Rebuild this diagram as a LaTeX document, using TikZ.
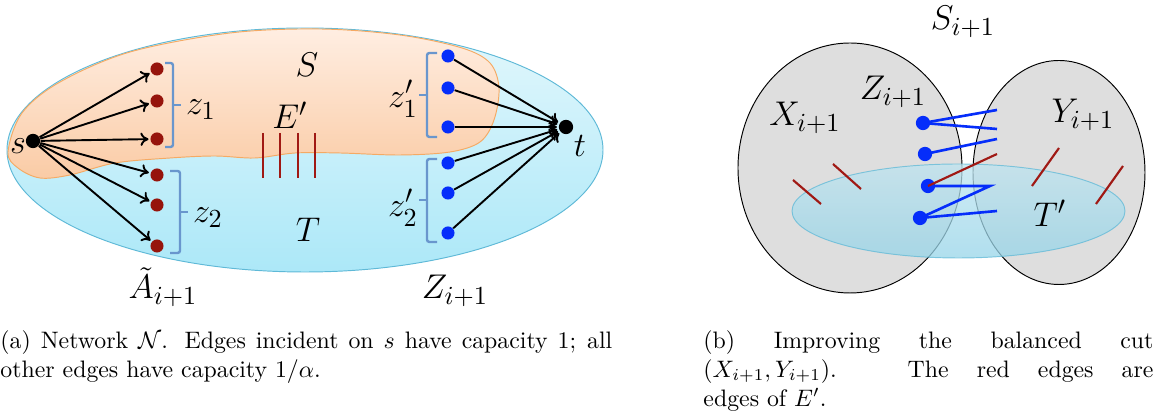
\documentclass[tikz,border=0pt]{standalone}
\usepackage{amsmath}
\usepackage{amssymb}
\usepackage{tikz}
\usetikzlibrary{arrows.meta}
\definecolor{dotRed}{RGB}{150,20,12}
\definecolor{dotBlue}{RGB}{5,45,250}
\definecolor{edgeRed}{RGB}{160,25,20}
\definecolor{braceBlue}{RGB}{105,150,205}
\definecolor{peachTop}{RGB}{255,238,226}
\definecolor{peachBot}{RGB}{250,203,165}
\definecolor{peachLine}{RGB}{245,170,100}
\definecolor{skyTop}{RGB}{226,247,252}
\definecolor{skyBot}{RGB}{172,232,248}
\definecolor{skyLine}{RGB}{95,185,215}
\definecolor{cellGray}{RGB}{222,222,222}
\definecolor{tTop}{RGB}{190,228,240}
\definecolor{tBot}{RGB}{150,212,232}

\tikzset{
  reddot/.style={circle, fill=dotRed, inner sep=0pt, minimum size=5.5pt},
  bluedot/.style={circle, fill=dotBlue, inner sep=0pt, minimum size=5.5pt},
  blackdot/.style={circle, fill=black, inner sep=0pt, minimum size=6pt},
  bigdot/.style={circle, fill=dotBlue, inner sep=0pt, minimum size=6pt},
  arr/.style={-{To[length=3.4pt, width=5.6pt]}, line width=0.8pt, shorten >=0.6pt},
  brk/.style={braceBlue, line width=1pt, rounded corners=1pt},
  cut/.style={edgeRed, line width=0.9pt},
  bedge/.style={dotBlue, line width=1.1pt},
  lbl/.style={inner sep=0pt, font=\fontsize{15.5}{18}\selectfont},
  capt/.style={inner sep=0pt, align=justify, font=\fontsize{10}{12.2}\selectfont}
}

\begin{document}
\begin{tikzpicture}[x=0.42pt, y=-0.42pt]
\useasboundingbox (0,0) rectangle (1155,417);

% (a) the network
\shadedraw[top color=skyTop, bottom color=skyBot, draw=skyLine, line width=0.4pt]
  (305,150) ellipse [x radius=298, y radius=122];
\shadedraw[top color=peachTop, bottom color=peachBot, draw=peachLine, line width=0.4pt]
  plot[smooth cycle, tension=0.55] coordinates {(8,152) (22,113) (60,82) (130,52)
  (230,33) (320,29) (400,35) (462,48) (490,63) (499,88) (494,120) (480,142)
  (450,152) (400,155) (340,153) (295,153) (255,158) (215,156) (170,158)
  (115,163) (70,175) (40,178) (18,168)};

\draw[cut] (263,133) -- (263,178);
\draw[cut] (280,133) -- (280,178);
\draw[cut] (298,133) -- (298,178);
\draw[cut] (315,133) -- (315,178);

\node[blackdot] (s) at (33,141) {};
\node[blackdot] (t) at (566,127) {};
\node[reddot] (a1) at (157,69) {};
\node[reddot] (a2) at (157,101) {};
\node[reddot] (a3) at (157,139) {};
\node[reddot] (a4) at (157,175) {};
\node[reddot] (a5) at (157,205) {};
\node[reddot] (a6) at (157,246) {};
\node[bluedot] (b1) at (448,56) {};
\node[bluedot] (b2) at (448,88) {};
\node[bluedot] (b3) at (448,127) {};
\node[bluedot] (b4) at (448,163) {};
\node[bluedot] (b5) at (448,193) {};
\node[bluedot] (b6) at (448,233) {};

\foreach \i in {1,...,6} \draw[arr] (s) -- (a\i);
\foreach \i in {1,...,6} \draw[arr] (b\i) -- (t);

% brackets
\draw[brk] (165,63) -- (173,63) -- (173,147) -- (165,147);
\draw[brk] (173,105) -- (181,105);
\draw[brk] (170,171) -- (180,171) -- (180,253) -- (170,253);
\draw[brk] (180,212) -- (188,212);
\draw[brk] (437,53) -- (427,53) -- (427,137) -- (437,137);
\draw[brk] (427,95) -- (419,95);
\draw[brk] (437,159) -- (427,159) -- (427,242) -- (437,242);
\draw[brk] (427,200) -- (419,200);

\node[lbl] (sl) at (18,146) {$s$};
\node[lbl] (tl) at (580,146) {$t$};
\node[lbl] (Sl) at (307,65) {$S$};
\node[lbl] (El) at (290,115) {$E'$};
\node[lbl] (Tl) at (308,230) {$T$};
\node[lbl] (z1) at (201,110) {$z_1$};
\node[lbl] (z2) at (208,218) {$z_2$};
\node[lbl] (zp1) at (403,99) {$z'_1$};
\node[lbl] (zp2) at (403,208) {$z'_2$};
\node[lbl] (Al) at (163,287) {$\tilde{A}_{i+1}$};
\node[lbl] (Zl) at (455,291) {$Z_{i+1}$};

% (b) the balanced cut
\filldraw[fill=cellGray, draw=black, line width=0.4pt] (850,168) ellipse [x radius=112, y radius=125];
\filldraw[fill=cellGray, draw=black, line width=0.4pt] (1059,172.5) ellipse [x radius=86, y radius=112];
\shadedraw[top color=tTop, bottom color=tBot, draw=skyLine, line width=0.4pt, opacity=0.75]
  (958.5,211) ellipse [x radius=166.5, y radius=47];

\draw[cut] (793,180) -- (821,204);
\draw[cut] (833,164) -- (861,189);
\draw[cut] (1059,148) -- (1032,186);
\draw[cut] (1123,166) -- (1096,204);

\node[bigdot] (c1) at (923,123) {};
\node[bigdot] (c2) at (925,154) {};
\node[bigdot] (c3) at (928,186) {};
\node[bigdot] (c4) at (920,218) {};
\coordinate (e1) at (997,110);
\coordinate (e2) at (997,129);
\coordinate (e3) at (997,139);
\coordinate (e4) at (997,154);
\coordinate (e5) at (990,186);
\coordinate (e6) at (997,211);

\draw[bedge] (c1.center) -- (e1);
\draw[bedge] (c1.center) -- (e2);
\draw[bedge] (c2.center) -- (e3);
\draw[bedge] (c3.center) -- (e5) -- (c4.center);
\draw[bedge] (c4.center) -- (e6);
\draw[cut] (c3.center) -- (e4);

\node[lbl] (Sr) at (963,22) {$S_{i+1}$};
\node[lbl] (Zr) at (893,92) {$Z_{i+1}$};
\node[lbl] (Xr) at (805,118) {$X_{i+1}$};
\node[lbl] (Yr) at (1083,115) {$Y_{i+1}$};
\node[lbl] (Tr) at (1050,213) {$T'$};

% captions
\node[capt, text width=257pt, anchor=north west] (capa) at (0,330)
  {(a) Network $\mathcal{N}$. Edges incident on $s$ have capacity 1; all\linebreak
   other edges have capacity $1/\alpha$.};
\node[capt, text width=189pt, anchor=north west] (capb) at (703,330)
  {(b) Improving the balanced cut\linebreak
   $(X_{i+1},Y_{i+1})$. The red edges are\linebreak
   edges of $E'$.};
\end{tikzpicture}
\end{document}
